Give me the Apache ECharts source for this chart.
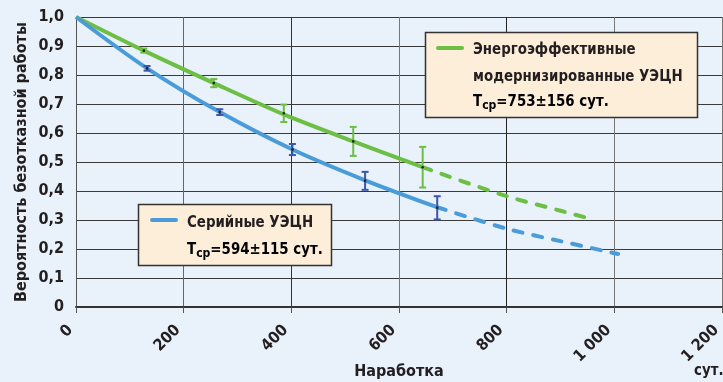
<!DOCTYPE html>
<html><head><meta charset="utf-8">
<script src="https://cdn.jsdelivr.net/npm/echarts@6/dist/echarts.min.js"></script>
<style>html,body{margin:0;padding:0;background:#e9f1fa}#c{width:723px;height:382px}</style>
</head><body><div id="c"></div>
<script>
// ---- data ----
const xTicks = [0, 200, 400, 600, 800, 1000, 1200];
const xTickLabels = ['0', '200', '400', '600', '800', '1 000', '1 200'];
const yTickLabels = ['0', '0,1', '0,2', '0,3', '0,4', '0,5', '0,6', '0,7', '0,8', '0,9', '1,0'];

// serial pumps (blue)
const blueSolidX = [0, 132, 267, 402, 537, 671];
const blueSolidY = [1.0, 0.823, 0.672, 0.543, 0.437, 0.344];
const blueDashX = [671, 800, 900, 1007];
const blueDashY = [0.344, 0.270, 0.227, 0.183];
const blueErrX = [132, 267, 402, 537, 671];
const blueErrY = [0.823, 0.672, 0.543, 0.435, 0.342];
const blueErr = [0.008, 0.01, 0.019, 0.031, 0.04];

// energy efficient (green)
const greenSolidX = [0, 126, 256, 386, 515, 644];
const greenSolidY = [1.0, 0.884, 0.772, 0.664, 0.571, 0.482];
const greenDashX = [644, 800, 900, 960];
const greenDashY = [0.482, 0.382, 0.332, 0.302];
const greenErrX = [126, 256, 386, 515, 644];
const greenErrY = [0.884, 0.772, 0.668, 0.571, 0.482];
const greenErr = [0.007, 0.014, 0.03, 0.05, 0.07];

const FONT = "'Liberation Sans Narrow','DejaVu Sans Condensed',sans-serif";
const BLUE = '#4a9bd9', BLUE_BAR = '#3b57ad', GREEN = '#6cbf44', GREEN_BAR = '#6cbf44';
const INK = '#231f20';

const zip = (a, b) => a.map((v, i) => [v, b[i]]);
const errData = (x, y, e) => x.map((v, i) => [v, y[i], y[i] - e[i], y[i] + e[i]]);

function errRender(color) {
  return function (params, api) {
    const c = api.coord([api.value(0), api.value(1)]);
    const lo = api.coord([api.value(0), api.value(2)]);
    const hi = api.coord([api.value(0), api.value(3)]);
    const w = 3.5;
    const st = { stroke: color, lineWidth: 2 };
    return { type: 'group', children: [
      { type: 'line', shape: { x1: c[0], y1: lo[1], x2: c[0], y2: hi[1] }, style: st },
      { type: 'line', shape: { x1: c[0] - w, y1: lo[1], x2: c[0] + w, y2: lo[1] }, style: st },
      { type: 'line', shape: { x1: c[0] - w, y1: hi[1], x2: c[0] + w, y2: hi[1] }, style: st },
      { type: 'circle', shape: { cx: c[0], cy: c[1], r: 1.3 }, style: { fill: '#222' } }
    ]};
  };
}

const lineBase = { type: 'line', showSymbol: false, symbol: 'none', smooth: 0.3, z: 3, silent: true };
const textBase = { fontFamily: FONT, fontWeight: 'bold', fontSize: 16, fill: INK };
const rich = {
  a: { fontFamily: FONT, fontWeight: 'bold', fontSize: 16, color: INK, height: 20, verticalAlign: 'top' },
  s: { fontFamily: FONT, fontWeight: 'bold', fontSize: 13, color: INK, padding: [7, 0, 0, 0], verticalAlign: 'top' }
};
const SX = 0.93;
const txt = (x, y, t) => ({ type: 'text', z: 11, x: x, y: y, scaleX: SX, style: Object.assign({}, textBase, { text: t }) });
const rtxt = (x, y, t) => ({ type: 'text', z: 11, x: x, y: y, scaleX: SX, style: { rich: rich, text: t } });

const chart = echarts.init(document.getElementById('c'));
chart.setOption({
  backgroundColor: '#e9f1fa',
  animation: false,
  grid: { left: 76, right: 1, top: 17, bottom: 75, containLabel: false, outerBoundsMode: 'none' },
  xAxis: {
    type: 'value', min: 0, max: 1200, interval: 200,
    name: 'Наработка', nameLocation: 'middle', nameGap: 57, nameMoveOverlap: false,
    nameTextStyle: { fontFamily: FONT, fontWeight: 'bold', fontSize: 16, color: INK },
    axisLine: { show: true, lineStyle: { color: '#333', width: 2 } },
    axisTick: { show: true, length: 6, lineStyle: { color: '#555', width: 1 } },
    axisLabel: { rotate: 45, margin: 15, padding: [0, 8, 0, 0], fontFamily: FONT, fontWeight: 'bold', fontSize: 16, color: INK,
      formatter: v => xTickLabels[xTicks.indexOf(v)] },
    splitLine: { show: true, lineStyle: { color: ['#555', '#666', '#333', '#777', '#222', '#777', '#777'], width: 1 } }
  },
  yAxis: {
    type: 'value', min: 0, max: 1, interval: 0.1,
    name: 'Вероятность безотказной работы', nameLocation: 'middle', nameGap: 46, nameMoveOverlap: false,
    nameTextStyle: { fontFamily: FONT, fontWeight: 'bold', fontSize: 16, color: INK },
    axisLine: { show: true, lineStyle: { color: '#555', width: 1 } },
    axisTick: { show: false },
    axisLabel: { margin: 12, fontFamily: FONT, fontWeight: 'bold', fontSize: 16, color: INK,
      formatter: v => yTickLabels[Math.round(v * 10)] },
    splitLine: { show: true, lineStyle: { color: '#3a3a3a', width: 1 } }
  },
  series: [
    Object.assign({}, lineBase, { name: 'g', data: zip(greenSolidX, greenSolidY), lineStyle: { color: GREEN, width: 4 } }),
    Object.assign({}, lineBase, { name: 'gd', data: zip(greenDashX, greenDashY), lineStyle: { color: GREEN, width: 4, type: [9, 11], cap: 'round' } }),
    Object.assign({}, lineBase, { name: 'b', data: zip(blueSolidX, blueSolidY), lineStyle: { color: BLUE, width: 4 } }),
    Object.assign({}, lineBase, { name: 'bd', data: zip(blueDashX, blueDashY), lineStyle: { color: BLUE, width: 4, type: [9, 11], cap: 'round' } }),
    { type: 'custom', z: 5, silent: true, renderItem: errRender(GREEN_BAR), data: errData(greenErrX, greenErrY, greenErr), encode: { x: 0, y: [1, 2, 3] } },
    { type: 'custom', z: 5, silent: true, renderItem: errRender(BLUE_BAR), data: errData(blueErrX, blueErrY, blueErr), encode: { x: 0, y: [1, 2, 3] } }
  ],
  graphic: [
    // green legend box
    { type: 'rect', z: 10, shape: { x: 425.5, y: 32.5, width: 272, height: 85 }, style: { fill: '#fdeed9', stroke: '#333', lineWidth: 1.5 } },
    { type: 'line', z: 11, shape: { x1: 438, y1: 48, x2: 462, y2: 48 }, style: { stroke: GREEN, lineWidth: 4, lineCap: 'round' } },
    txt(473, 42, 'Энергоэффективные'),
    txt(473, 69, 'модернизированные УЭЦН'),
    rtxt(473, 92, '{a|Т}{s|ср}{a|=753±156 сут.}'),
    // blue legend box
    { type: 'rect', z: 10, shape: { x: 138.5, y: 204.5, width: 193, height: 61 }, style: { fill: '#fdeed9', stroke: '#333', lineWidth: 1.5 } },
    { type: 'line', z: 11, shape: { x1: 152, y1: 220, x2: 176, y2: 220 }, style: { stroke: BLUE, lineWidth: 4, lineCap: 'round' } },
    txt(187, 215, 'Серийные УЭЦН'),
    rtxt(187, 240, '{a|Т}{s|ср}{a|=594±115 сут.}'),
    // unit label
    { type: 'text', z: 11, x: 694, y: 363, scaleX: SX, style: Object.assign({}, textBase, { text: 'сут.' }) }
  ]
});
</script></body></html>
